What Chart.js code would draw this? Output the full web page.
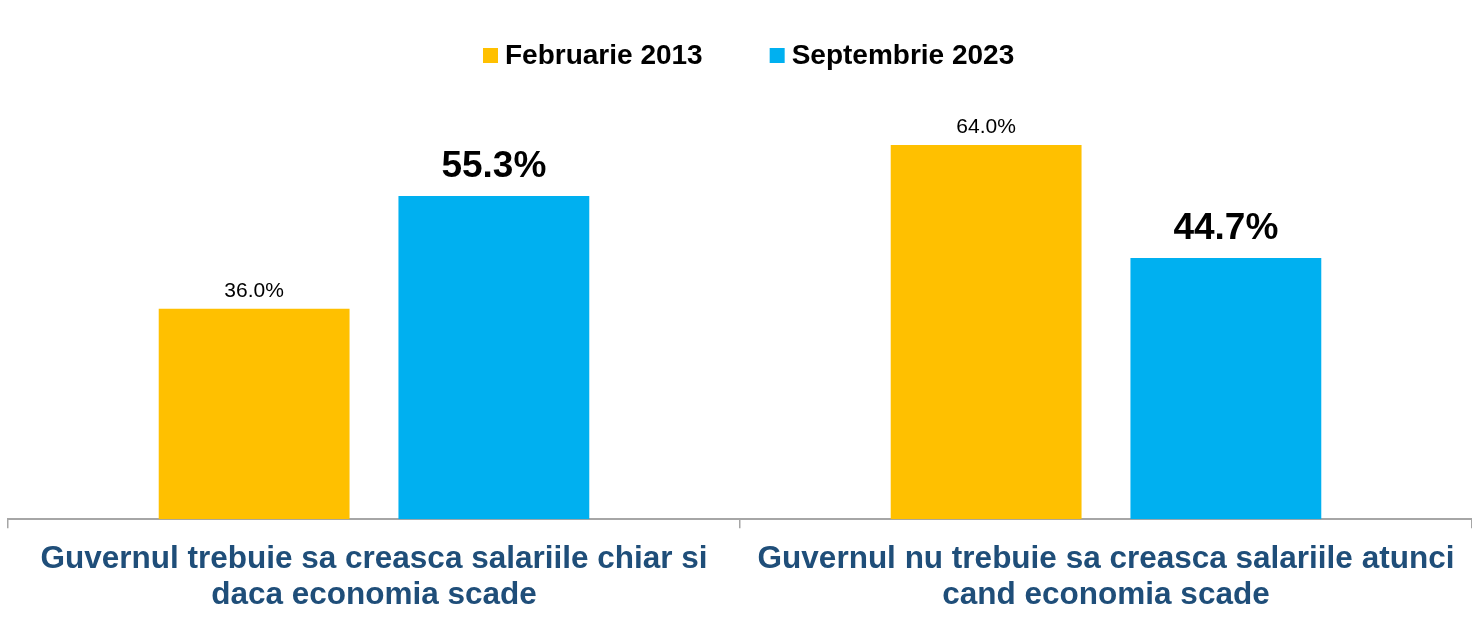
<!DOCTYPE html>
<html>
<head>
<meta charset="utf-8">
<script src="https://cdn.jsdelivr.net/npm/chart.js@4"></script>
<style>
  html, body { margin: 0; padding: 0; background: #fff; }
  #wrap { width: 1472px; height: 627px; }
</style>
</head>
<body>
<div id="wrap"><canvas id="chart"></canvas></div>
<script>
// categories (two-line labels)
const categories = [
    ['Guvernul trebuie sa creasca salariile chiar si', 'daca economia scade'],
    ['Guvernul nu trebuie sa creasca salariile atunci', 'cand economia scade']
];
const seriesNames = ['Februarie 2013', 'Septembrie 2023'];
const feb2013 = [36.0, 64.0];
const sep2023 = [55.3, 44.7];

const FONT = '"Liberation Sans", Arial, sans-serif';

// --- value labels on top of bars ---
const valueLabels = {
    id: 'valueLabels',
    afterDatasetsDraw(chart) {
        const ctx = chart.ctx;
        ctx.save();
        ctx.textAlign = 'center';
        ctx.textBaseline = 'alphabetic';
        ctx.fillStyle = '#000';
        chart.data.datasets.forEach((ds, i) => {
            const meta = chart.getDatasetMeta(i);
            const bold = i === 1;
            ctx.font = bold ? 'bold 37px ' + FONT : '21px ' + FONT;
            meta.data.forEach((bar, j) => {
                ctx.fillText(ds.data[j].toFixed(1) + '%', bar.x, bar.y - (bold ? 19 : 12));
            });
        });
        ctx.restore();
    }
};

// --- legend drawn at the top, centred like the original ---
const topLegend = {
    id: 'topLegend',
    afterDraw(chart) {
        const ctx = chart.ctx;
        ctx.save();
        ctx.font = 'bold 28px ' + FONT;
        ctx.textBaseline = 'alphabetic';
        ctx.textAlign = 'left';
        let x = 483;
        chart.data.datasets.forEach((ds) => {
            ctx.fillStyle = ds.backgroundColor;
            ctx.fillRect(x, 48, 15, 15);
            x += 22;
            ctx.fillStyle = '#000';
            ctx.fillText(ds.label, x, 64);
            x += ctx.measureText(ds.label).width + 67;
        });
        ctx.restore();
    }
};

const ctx = document.getElementById('chart').getContext('2d');
const chart = new Chart(ctx, {
    type: 'bar',
    data: {
        labels: categories,
        datasets: [{
            label: seriesNames[0],
            data: feb2013,
            backgroundColor: '#FFC000',
            categoryPercentage: 0.655,
            barPercentage: 0.796
        }, {
            label: seriesNames[1],
            data: sep2023,
            backgroundColor: '#00B0F0',
            categoryPercentage: 0.655,
            barPercentage: 0.796
        }]
    },
    options: {
        responsive: true,
        maintainAspectRatio: false,
        animation: false,
        devicePixelRatio: 1,
        layout: { padding: { left: 8, right: 0, top: 110, bottom: 1 } },
        plugins: {
            legend: { display: false },
            tooltip: { enabled: false }
        },
        scales: {
            x: {
                grid: {
                    offset: true,
                    drawOnChartArea: false,
                    drawTicks: true,
                    tickLength: 9,
                    color: '#A6A6A6',
                    lineWidth: 1.5
                },
                border: { color: '#A6A6A6', width: 2 },
                ticks: {
                    color: '#1F4E79',
                    padding: 13,
                    maxRotation: 0,
                    font: { family: FONT, size: 31.5, weight: 'bold', lineHeight: 1.14 }
                }
            },
            y: {
                display: false,
                min: 0,
                max: 70
            }
        }
    },
    plugins: [valueLabels, topLegend]
});
</script>
</body>
</html>
